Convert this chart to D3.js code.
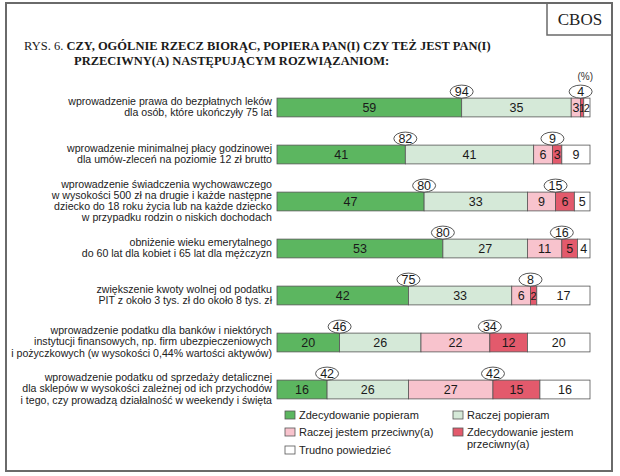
<!DOCTYPE html>
<html><head><meta charset="utf-8">
<script src="https://cdn.jsdelivr.net/npm/d3@7"></script>
<style>html,body{margin:0;padding:0;background:#fff;}svg{display:block;}</style>
</head><body>
<svg id="chart" width="620" height="476"></svg>
<script>
const categories = [
  ["wprowadzenie prawa do bezpłatnych leków", "dla osób, które ukończyły 75 lat"],
  ["wprowadzenie minimalnej płacy godzinowej", "dla umów-zleceń na poziomie 12 zł brutto"],
  ["wprowadzenie świadczenia wychowawczego", "w wysokości 500 zł na drugie i każde następne", "dziecko do 18 roku życia lub na każde dziecko", "w przypadku rodzin o niskich dochodach"],
  ["obniżenie wieku emerytalnego", "do 60 lat dla kobiet i 65 lat dla mężczyzn"],
  ["zwiększenie kwoty wolnej od podatku", "PIT z około 3 tys. zł do około 8 tys. zł"],
  ["wprowadzenie podatku dla banków i niektórych", "instytucji finansowych, np. firm ubezpieczeniowych", "i pożyczkowych (w wysokości 0,44% wartości aktywów)"],
  ["wprowadzenie podatku od sprzedaży detalicznej", "dla sklepów w wysokości zależnej od ich przychodów", "i tego, czy prowadzą działalność w weekendy i święta"]
];
const seriesNames = ["Zdecydowanie popieram", "Raczej popieram", "Raczej jestem przeciwny(a)", "Zdecydowanie jestem przeciwny(a)", "Trudno powiedzieć"];
const strongSupport   = [59, 41, 47, 53, 42, 20, 16];
const moderateSupport = [35, 41, 33, 27, 33, 26, 26];
const moderateOppose  = [3, 6, 9, 11, 6, 22, 27];
const strongOppose    = [1, 3, 6, 5, 2, 12, 15];
const hardToSay       = [2, 9, 5, 4, 17, 20, 16];
const supportTotals   = [94, 82, 80, 80, 75, 46, 42];
const opposeTotals    = [4, 9, 15, 16, 8, 34, 42];
const colors = ["#5cb660", "#d5e9d8", "#f8c3cd", "#e35a6c", "#ffffff"];

const svg = d3.select("#chart");
const sans = "'Liberation Sans', Arial, sans-serif";
const serif = "'Liberation Serif', 'Times New Roman', serif";

// frame
svg.append("rect").attr("x", 6).attr("y", 3).attr("width", 606).attr("height", 468)
  .attr("fill", "none").attr("stroke", "#6a6a6a").attr("stroke-width", 2);
svg.append("rect").attr("x", 547).attr("y", 3).attr("width", 65).attr("height", 32)
  .attr("fill", "none").attr("stroke", "#6a6a6a").attr("stroke-width", 1.5);
svg.append("text").attr("x", 580).attr("y", 25).attr("text-anchor", "middle")
  .attr("font-family", serif).attr("font-size", 17).attr("fill", "#222").text("CBOS");

// title
const t1 = svg.append("text").attr("x", 24).attr("y", 50).attr("font-family", serif).attr("font-size", 12.5).attr("fill", "#1a1a1a");
t1.append("tspan").text("RYS. 6. ");
t1.append("tspan").attr("font-weight", "bold").text("CZY, OGÓLNIE RZECZ BIORĄC, POPIERA PAN(I) CZY TEŻ JEST PAN(I)");
svg.append("text").attr("x", 74).attr("y", 65).attr("font-family", serif).attr("font-size", 12.5)
  .attr("font-weight", "bold").attr("fill", "#1a1a1a").text("PRZECIWNY(A) NASTĘPUJĄCYM ROZWIĄZANIOM:");
svg.append("text").attr("x", 593).attr("y", 80).attr("text-anchor", "end").attr("font-family", sans)
  .attr("font-size", 10).attr("fill", "#333").text("(%)");

const x = d3.scaleLinear().domain([0, 100]).range([277, 590]);
const y = d3.scaleBand().domain(d3.range(categories.length)).range([84, 413]).paddingInner(0.6).paddingOuter(0.3);

const seriesArr = [strongSupport, moderateSupport, moderateOppose, strongOppose, hardToSay];

categories.forEach((lines, i) => {
  const g = svg.append("g");
  let cum = 0;
  seriesArr.forEach((s, k) => {
    const v = s[i];
    const x0 = x(cum), x1 = x(cum + v);
    g.append("rect").attr("x", x0).attr("y", y(i)).attr("width", x1 - x0).attr("height", y.bandwidth())
      .attr("fill", colors[k]).attr("stroke", "#555").attr("stroke-width", 0.8);
    g.append("text").attr("x", (x0 + x1) / 2).attr("y", y(i) + y.bandwidth() / 2 + 4.5)
      .attr("text-anchor", "middle").attr("font-family", sans).attr("font-size", v < 3 ? 11 : 12.5)
      .attr("fill", "#1a1a1a").text(v);
    cum += v;
  });
  // label
  const lh = 11.2;
  const cy = y(i) + y.bandwidth() / 2 - 1;
  const startY = cy - (lines.length - 1) * lh / 2 + 3.8;
  const lt = svg.append("text").attr("text-anchor", "end").attr("font-family", sans)
    .attr("font-size", 10.6).attr("fill", "#222");
  lines.forEach((ln, j) => lt.append("tspan").attr("x", 272).attr("y", startY + j * lh).text(ln));
  // ellipses
  const ovals = [
    { cx: x(strongSupport[i]), v: supportTotals[i] },
    { cx: x(strongSupport[i] + moderateSupport[i] + moderateOppose[i]), v: opposeTotals[i] }
  ];
  ovals.forEach(o => {
    const ey = y(i) - 6.5;
    svg.append("ellipse").attr("cx", o.cx).attr("cy", ey).attr("rx", 11.5).attr("ry", 6.5)
      .attr("fill", "#fff").attr("stroke", "#444").attr("stroke-width", 0.9);
    svg.append("text").attr("x", o.cx).attr("y", ey + 4.5).attr("text-anchor", "middle")
      .attr("font-family", sans).attr("font-size", 12.5).attr("fill", "#1a1a1a").text(o.v);
  });
});

// legend
const legendPos = [[285, 415], [453, 415], [285, 432], [453, 432], [285, 450]];
const legendLines = [["Zdecydowanie popieram"], ["Raczej popieram"], ["Raczej jestem przeciwny(a)"], ["Zdecydowanie jestem", "przeciwny(a)"], ["Trudno powiedzieć"]];
seriesNames.forEach((name, k) => {
  const [lx, ly] = legendPos[k];
  svg.append("rect").attr("x", lx).attr("y", ly - 4).attr("width", 10).attr("height", 8)
    .attr("fill", colors[k]).attr("stroke", "#555").attr("stroke-width", 0.8);
  const tx = svg.append("text").attr("font-family", sans).attr("font-size", 11).attr("fill", "#222");
  legendLines[k].forEach((ln, j) => tx.append("tspan").attr("x", lx + 14).attr("y", ly + 4 + j * 12).text(ln));
});
</script>
</body></html>
